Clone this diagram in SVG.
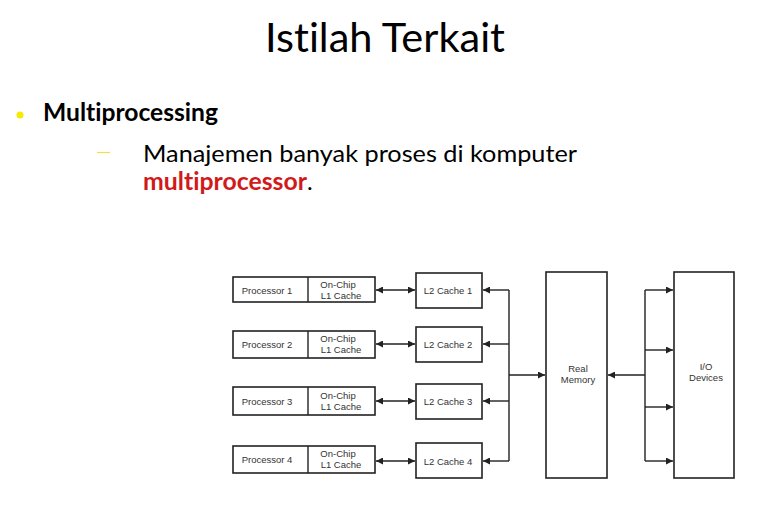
<svg xmlns="http://www.w3.org/2000/svg" width="765" height="510" viewBox="0 0 765 510">
<defs>
<style>
.t{font-family:Lato,"Open Sans",sans-serif;fill:#000;font-variant-ligatures:none;font-feature-settings:"liga" 0,"clig" 0}
.d{font-family:"Liberation Sans",Arial,sans-serif;font-size:9.5px;fill:#333;text-anchor:middle}
.b{fill:#fff;stroke:#222;stroke-width:1.6}
.c{fill:none;stroke:#222;stroke-width:1.4}
</style>
<marker id="ah" viewBox="0 0 8 8" refX="8" refY="4" markerWidth="7" markerHeight="7" markerUnits="userSpaceOnUse" orient="auto-start-reverse">
<path d="M0,0 L8,4 L0,8 z" fill="#222"/>
</marker>
</defs>
<rect width="765" height="510" fill="#fff"/>
<text class="t" x="265" y="52" font-size="40" textLength="240" lengthAdjust="spacingAndGlyphs">Istilah Terkait</text>
<circle cx="20" cy="115" r="3.5" fill="#f5ea00"/>
<text class="t" x="43" y="121" font-size="24" font-weight="bold" textLength="175" lengthAdjust="spacingAndGlyphs">Multiprocessing</text>
<line x1="97" y1="152.5" x2="110" y2="152.5" stroke="#ece04a" stroke-width="1.2"/>
<text class="t" x="143" y="162" font-size="24" textLength="434" lengthAdjust="spacingAndGlyphs">Manajemen banyak proses di komputer</text>
<text class="t" x="143" y="190" font-size="24"><tspan font-weight="bold" fill="#d11a1a" textLength="164" lengthAdjust="spacingAndGlyphs">multiprocessor</tspan><tspan>.</tspan></text>

<g id="p1"><rect class="b" x="233" y="277" width="142" height="25"/><line class="c" x1="308" y1="277" x2="308" y2="302"/><text class="d" x="267" y="294">Processor 1</text><text class="d" x="338" y="288">On-Chip</text><text class="d" x="341" y="299">L1 Cache</text></g>
<g id="p2"><rect class="b" x="233" y="331" width="142" height="27"/><line class="c" x1="308" y1="331" x2="308" y2="358"/><text class="d" x="267" y="348">Processor 2</text><text class="d" x="338" y="342">On-Chip</text><text class="d" x="341" y="353">L1 Cache</text></g>
<g id="p3"><rect class="b" x="233" y="387" width="142" height="28"/><line class="c" x1="308" y1="387" x2="308" y2="415"/><text class="d" x="267" y="405">Processor 3</text><text class="d" x="338" y="399">On-Chip</text><text class="d" x="341" y="410">L1 Cache</text></g>
<g id="p4"><rect class="b" x="233" y="446" width="142" height="27"/><line class="c" x1="308" y1="446" x2="308" y2="473"/><text class="d" x="267" y="463">Processor 4</text><text class="d" x="338" y="457">On-Chip</text><text class="d" x="341" y="468">L1 Cache</text></g>

<g id="l2a"><rect class="b" x="416" y="273" width="66" height="35"/><text class="d" x="448" y="294">L2 Cache  1</text></g>
<g id="l2b"><rect class="b" x="416" y="327" width="66" height="35"/><text class="d" x="448" y="348">L2 Cache  2</text></g>
<g id="l2c"><rect class="b" x="416" y="384" width="66" height="35"/><text class="d" x="448" y="405">L2 Cache  3</text></g>
<g id="l2d"><rect class="b" x="416" y="443" width="66" height="35"/><text class="d" x="448" y="465">L2 Cache  4</text></g>

<g id="mem"><rect class="b" x="546" y="272" width="61" height="206"/><text class="d" x="578" y="372">Real</text><text class="d" x="578" y="383">Memory</text></g>
<g id="io"><rect class="b" x="674" y="272" width="60" height="206"/><text class="d" x="706" y="370">I/O</text><text class="d" x="706" y="381">Devices</text></g>

<g id="connectors">
<line class="c" x1="376" y1="290" x2="415" y2="290" marker-start="url(#ah)" marker-end="url(#ah)"/>
<line class="c" x1="376" y1="344" x2="415" y2="344" marker-start="url(#ah)" marker-end="url(#ah)"/>
<line class="c" x1="376" y1="401" x2="415" y2="401" marker-start="url(#ah)" marker-end="url(#ah)"/>
<line class="c" x1="376" y1="461" x2="415" y2="461" marker-start="url(#ah)" marker-end="url(#ah)"/>
<line class="c" x1="509" y1="290" x2="509" y2="461"/>
<line class="c" x1="509" y1="290" x2="483" y2="290" marker-end="url(#ah)"/>
<line class="c" x1="509" y1="344" x2="483" y2="344" marker-end="url(#ah)"/>
<line class="c" x1="509" y1="401" x2="483" y2="401" marker-end="url(#ah)"/>
<line class="c" x1="509" y1="461" x2="483" y2="461" marker-end="url(#ah)"/>
<line class="c" x1="509" y1="375" x2="545" y2="375" marker-end="url(#ah)"/>
<line class="c" x1="645" y1="290" x2="645" y2="461"/>
<line class="c" x1="645" y1="375" x2="608" y2="375" marker-end="url(#ah)"/>
<line class="c" x1="645" y1="290" x2="673" y2="290" marker-end="url(#ah)"/>
<line class="c" x1="645" y1="350" x2="673" y2="350" marker-end="url(#ah)"/>
<line class="c" x1="645" y1="407" x2="673" y2="407" marker-end="url(#ah)"/>
<line class="c" x1="645" y1="461" x2="673" y2="461" marker-end="url(#ah)"/>
</g>
</svg>
